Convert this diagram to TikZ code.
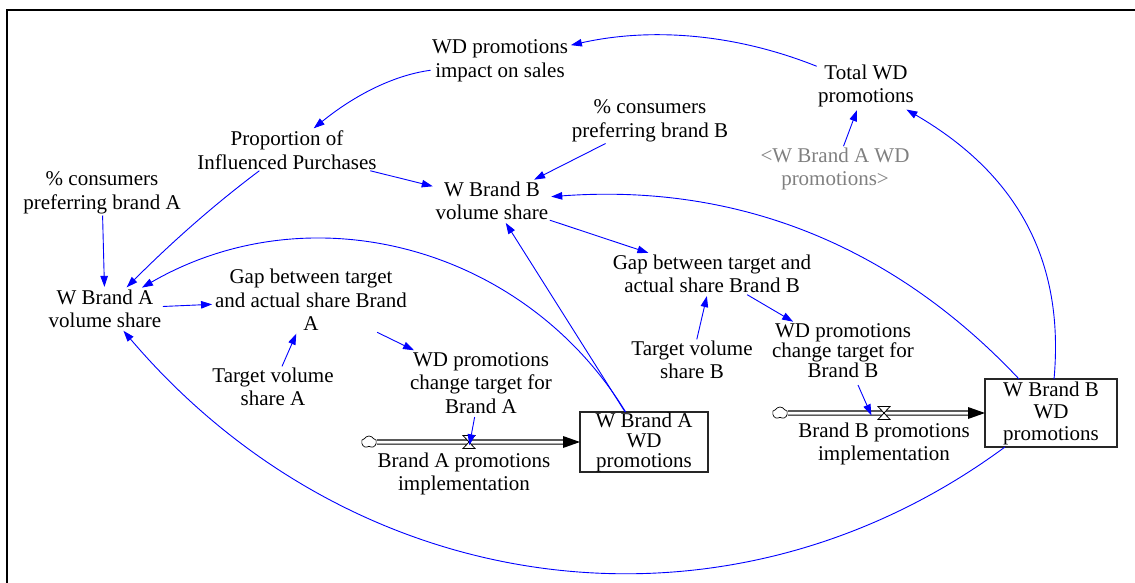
\documentclass[tikz,border=0pt]{standalone}
\usepackage{fontspec}
\setmainfont{Liberation Serif}
\usetikzlibrary{arrows.meta,shapes.symbols}
\definecolor{linkblue}{RGB}{0,0,255}
\definecolor{shadowgray}{RGB}{128,128,128}
\begin{document}
\begin{tikzpicture}[x=1pt,y=-1pt,
  vvar/.style={align=center,inner sep=0pt,outer sep=1.5pt,font=\fontsize{21}{23.5}\selectfont},
  stockbox/.style={draw=black!85,line width=1.1pt,align=center,inner sep=0pt,outer sep=0pt},
  link/.style={draw=linkblue,line width=0.9pt,-{Triangle[length=11pt,width=7.5pt]},shorten >=1.5pt},
  flowpipe/.style={draw=black,line width=1.1pt,double=white,double distance=3pt},
  valveshape/.style={draw=black,fill=white,line width=0.8pt},
  cloudshape/.style={cloud,draw=black,fill=white,cloud puffs=5,cloud puff arc=120,aspect=1.3,minimum width=15pt,minimum height=12pt,inner sep=0pt,line width=0.7pt}]
\useasboundingbox (0,0) rectangle (1135,582);
% frame
\draw[line width=2pt] (7,600) -- (7,10) -- (1150,10);

% variables
\node[vvar] (impact) at (500,61) {WD promotions\\impact on sales};
\node[vvar] (total) at (866,86) {Total WD\\promotions};
\node[vvar] (prefB) at (650,121) {\% consumers\\preferring brand B};
\node[vvar,text=shadowgray] (shadowA) at (835,169) {<W Brand A WD\\promotions>};
\node[vvar] (propor) at (287,150) {Proportion of\\Influenced Purchases};
\node[vvar] (prefA) at (102,193) {\% consumers\\preferring brand A};
\node[vvar] (wbvol) at (492,201) {W Brand B\\volume share};
\node[vvar] (wavol) at (105,309) {W Brand A\\volume share};
\node[vvar] (gapA) at (311,300) {Gap between target\\and actual share Brand\\A};
\node[vvar] (gapB) at (712,274) {Gap between target and\\actual share Brand B};
\node[vvar] (targA) at (273,387) {Target volume\\share A};
\node[vvar] (targB) at (692,360) {Target volume\\share B};
\node[vvar] (chA) at (481,383) {WD promotions\\change target for\\Brand A};
\node[vvar,font=\fontsize{21}{20}\selectfont] (chB) at (843,351) {WD promotions\\change target for\\Brand B};
\node[vvar,outer sep=6pt] (rateA) at (464,474) {Brand A promotions\\implementation};
\node[vvar,outer sep=6pt] (rateB) at (884,444) {Brand B promotions\\implementation};

% stocks
\node[stockbox,minimum width=128pt,minimum height=60pt,font=\fontsize{21}{20}\selectfont] (stockA) at (644,442) {W Brand A\\WD\\promotions};
\node[stockbox,minimum width=132pt,minimum height=68pt,font=\fontsize{21}{22}\selectfont] (stockB) at (1051,413) {W Brand B\\WD\\promotions};

% flows
\node[cloudshape] (cloudA) at (369,442) {};
\node[cloudshape] (cloudB) at (780,413) {};
\node[inner sep=0pt,minimum size=0pt] (valveA) at (469,442) {};
\node[inner sep=0pt,minimum size=0pt] (valveB) at (884,413) {};
\draw[flowpipe] (cloudA.east) -- ([xshift=-14pt]stockA.west);
\fill ([xshift=-17pt,yshift=6pt]stockA.west) -- (stockA.west) -- ([xshift=-17pt,yshift=-6pt]stockA.west) -- cycle;
\draw[flowpipe] (cloudB.east) -- ([xshift=-14pt]stockB.west);
\fill ([xshift=-17pt,yshift=6pt]stockB.west) -- (stockB.west) -- ([xshift=-17pt,yshift=-6pt]stockB.west) -- cycle;
\draw[valveshape] ([shift={(-6,-6.5)}]valveA.center) -- ++(12,0) -- ++(-12,13) -- ++(12,0) -- cycle;
\draw[valveshape] ([shift={(-6,-6.5)}]valveB.center) -- ++(12,0) -- ++(-12,13) -- ++(12,0) -- cycle;

% connectors
\draw[link] (total) .. controls (736,34) and (652,27) .. (impact);
\draw[link] (impact) .. controls (395,75) and (356,94) .. (propor);
\draw[link] (propor) -- (wbvol);
\draw[link] (propor) .. controls (211,207) and (169,245) .. (wavol);
\draw[link] (prefA) -- (wavol);
\draw[link] (prefB) -- (wbvol);
\draw[link] (shadowA) -- (total);
\draw[link] (stockB) .. controls (1064,268) and (1024,178) .. (total);
\draw[link] (stockB) .. controls (893,245) and (737,183) .. (wbvol);
\draw[link] (wbvol) -- (gapB);
\draw[link] (targB) -- (gapB);
\draw[link] (gapB) -- (chB);
\draw[link,shorten <=6pt] (chB) -- (rateB);
\draw[link,shorten <=2pt] (chA) -- (rateA);
\draw[link] (targA) -- (gapA);
\draw[link] (wavol) -- (gapA);
\draw[link] (gapA) -- (chA);
\draw[link] (stockA) -- (wbvol);
\draw[link] (stockA) .. controls (524,246) and (311,190) .. (wavol);
\draw[link] (stockB) .. controls (727,652) and (355,603) .. (wavol);
\end{tikzpicture}
\end{document}
